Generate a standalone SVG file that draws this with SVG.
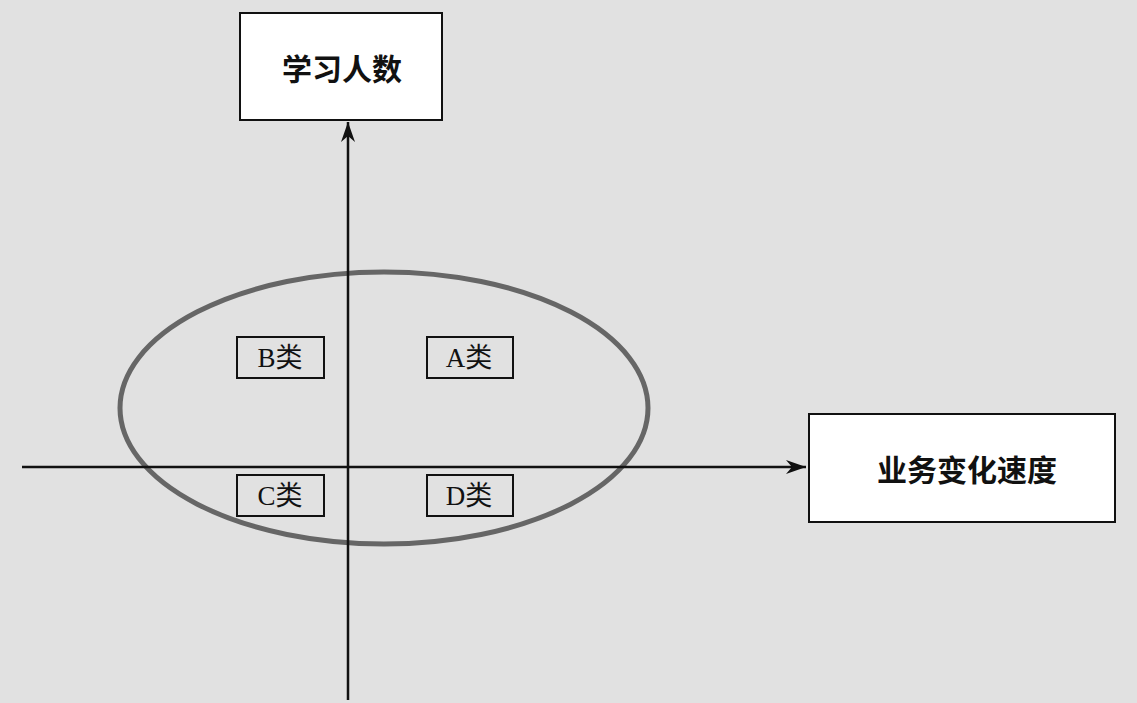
<svg xmlns="http://www.w3.org/2000/svg" width="1137" height="703" viewBox="0 0 1137 703">
<defs>
<style>
.box{fill:#fff;stroke:#111;stroke-width:2}
.sbox{fill:none;stroke:#111;stroke-width:2}
.big{font-family:"Noto Sans CJK SC","Liberation Sans",sans-serif;font-size:30px;font-weight:bold;fill:#111;text-anchor:middle}
.small{font-family:"Liberation Serif","Noto Sans CJK SC",serif;font-size:27px;fill:#111;text-anchor:middle}
.axis{stroke:#111;stroke-width:2.5;fill:none}
</style>
<marker id="arr2" viewBox="0 0 20 14" refX="20" refY="7" markerWidth="24" markerHeight="14" markerUnits="userSpaceOnUse" orient="auto">
<path d="M0,0 L20,7 L0,14 L6,7 Z" fill="#111"/>
</marker>
</defs>
<rect width="1137" height="703" fill="#e1e1e1"/>
<ellipse cx="384" cy="408" rx="264" ry="136" fill="none" stroke="#666" stroke-width="5"/>
<g id="connectors">
<line class="axis" x1="348" y1="700" x2="348" y2="122" marker-end="url(#arr2)"/>
<line class="axis" x1="22" y1="467" x2="806" y2="467" marker-end="url(#arr2)"/>
</g>
<g id="learners">
<rect class="box" x="240" y="13" width="202" height="107"/>
<text class="big" x="342" y="80">学习人数</text>
</g>
<g id="speed">
<rect class="box" x="809" y="414" width="306" height="108"/>
<text class="big" x="967" y="481">业务变化速度</text>
</g>
<g id="classB">
<rect class="sbox" x="237" y="337" width="87" height="41"/>
<text class="small" x="280" y="367">B类</text>
</g>
<g id="classA">
<rect class="sbox" x="427" y="337" width="86" height="41"/>
<text class="small" x="469" y="367">A类</text>
</g>
<g id="classC">
<rect class="sbox" x="237" y="475" width="87" height="41"/>
<text class="small" x="280" y="505">C类</text>
</g>
<g id="classD">
<rect class="sbox" x="427" y="475" width="86" height="41"/>
<text class="small" x="469" y="505">D类</text>
</g>
</svg>
